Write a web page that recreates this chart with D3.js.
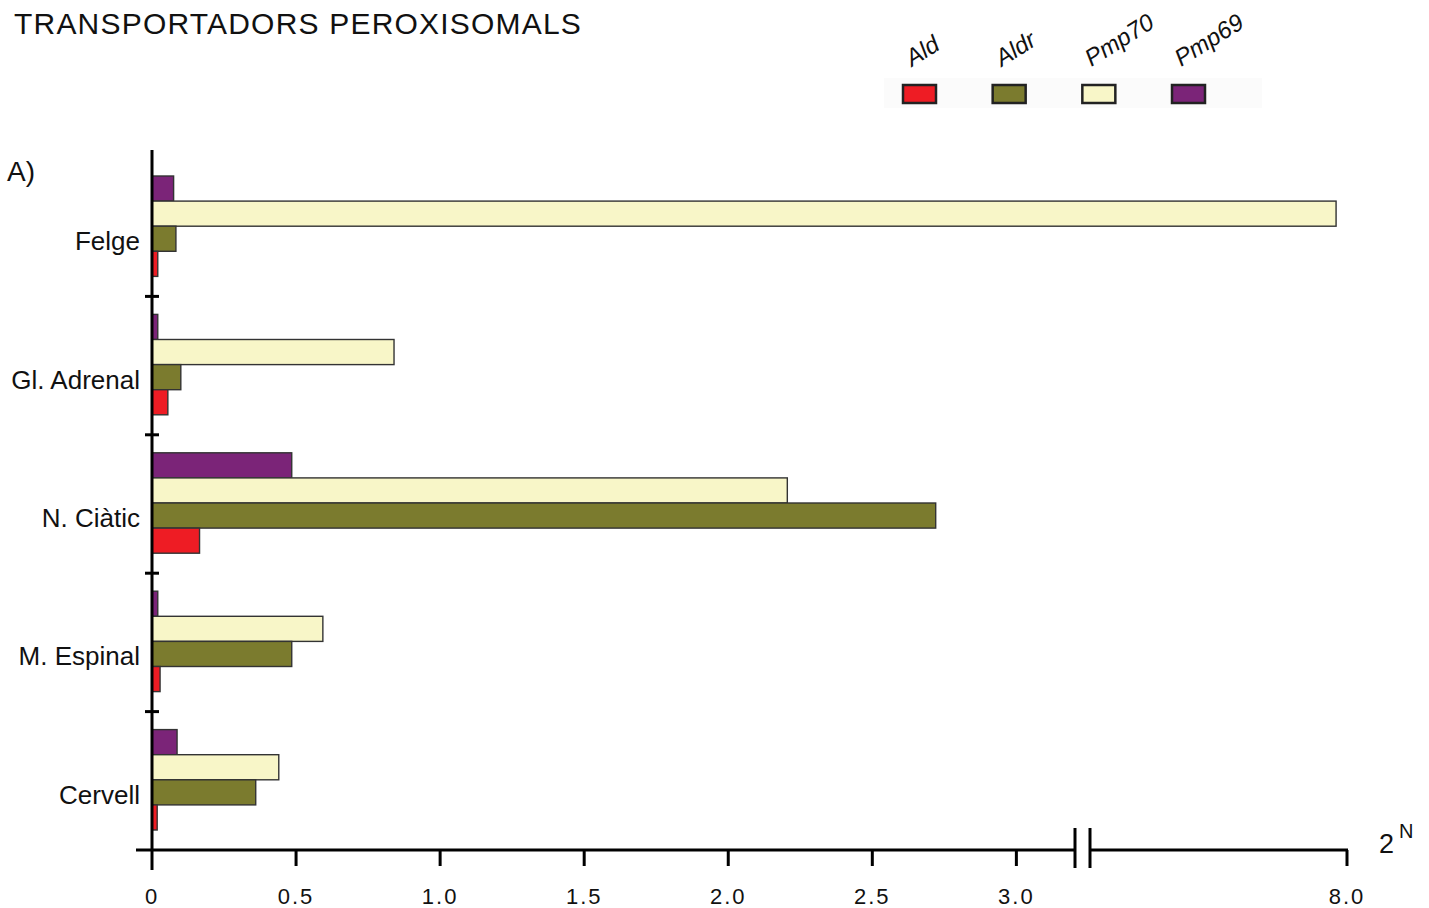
<!DOCTYPE html>
<html lang="ca">
<head>
    <meta charset="UTF-8">
    <title>Transportadors peroxisomals</title>
    <script src="https://d3js.org/d3.v7.min.js"></script>
    <style>
        body { margin: 0; background: #fff; }
        text { font-family: "Liberation Sans", Arial, sans-serif; fill: #111; }
    </style>
</head>
<body>
<script>
    const width = 1429;
    const height = 908;

    // data
    const tissues = ["Felge", "Gl. Adrenal", "N. Ciàtic", "M. Espinal", "Cervell"];
    const series  = ["Pmp69", "Pmp70", "Aldr", "Ald"];   // top to bottom within a group
    const legendOrder = ["Ald", "Aldr", "Pmp70", "Pmp69"];
    const colors = {Ald: "#ee1c24", Aldr: "#7b7b2e", Pmp70: "#f8f6c8", Pmp69: "#7b2478"};

    const ald   = [0.02, 0.055, 0.165, 0.028, 0.018];
    const aldr  = [0.083, 0.10, 2.72, 0.485, 0.36];
    const pmp70 = [7.83, 0.84, 2.205, 0.593, 0.44];
    const pmp69 = [0.075, 0.02, 0.485, 0.02, 0.087];
    const values = {Ald: ald, Aldr: aldr, Pmp70: pmp70, Pmp69: pmp69};

    const tickValues = [0, 0.5, 1.0, 1.5, 2.0, 2.5, 3.0, 8.0];
    const tickLabels = ["0", "0.5", "1.0", "1.5", "2.0", "2.5", "3.0", "8.0"];

    const svg = d3.select("body").append("svg")
            .attr("width", width).attr("height", height);

    // broken x scale: 0..3.2 linear, jump, then up to 8
    const x = d3.scaleLinear()
            .domain([0, 3.2, 4, 8])
            .range([152, 1074, 1090, 1347]);

    const y0 = d3.scaleBand()
            .domain(tissues)
            .range([158, 850])
            .paddingInner(0)
            .paddingOuter(0);

    const y1 = d3.scaleBand()
            .domain(series)
            .range([18, y0.bandwidth() - 20]);

    // title
    svg.append("text")
            .attr("x", 14).attr("y", 34)
            .style("font-size", "30px")
            .style("letter-spacing", "1.2px")
            .text("TRANSPORTADORS PEROXISOMALS");

    svg.append("text")
            .attr("x", 7).attr("y", 181)
            .style("font-size", "28px")
            .text("A)");

    // bars
    const groups = svg.selectAll("g.tissue")
            .data(tissues)
            .enter().append("g")
            .attr("class", "tissue")
            .attr("transform", d => `translate(0,${y0(d)})`);

    groups.selectAll("rect")
            .data((t, i) => series.map(s => ({s: s, v: values[s][i]})))
            .enter().append("rect")
            .attr("x", x(0))
            .attr("y", d => y1(d.s))
            .attr("width", d => x(d.v) - x(0))
            .attr("height", y1.bandwidth())
            .style("fill", d => colors[d.s])
            .style("stroke", "#333")
            .style("stroke-width", 1.4);

    // category labels
    groups.append("text")
            .attr("x", 140)
            .attr("y", y0.bandwidth() / 2 + 23)
            .attr("text-anchor", "end")
            .style("font-size", "26px")
            .text(d => d);

    // y axis
    const axis = svg.append("g").style("stroke", "#000");
    axis.append("line")
            .attr("x1", 152).attr("x2", 152)
            .attr("y1", 150).attr("y2", 851)
            .style("stroke-width", 3);

    axis.selectAll("line.ytick")
            .data(tissues.slice(1))
            .enter().append("line")
            .attr("class", "ytick")
            .attr("x1", 145).attr("x2", 159)
            .attr("y1", d => y0(d)).attr("y2", d => y0(d))
            .style("stroke-width", 3);

    // x axis in two pieces with break
    const axisY = 850;
    axis.append("line")
            .attr("x1", 136).attr("x2", 1075)
            .attr("y1", axisY).attr("y2", axisY)
            .style("stroke-width", 3);
    axis.append("line")
            .attr("x1", 1090).attr("x2", x(8) + 1)
            .attr("y1", axisY).attr("y2", axisY)
            .style("stroke-width", 3);
    [1075, 1090].forEach(bx => {
        axis.append("line")
                .attr("x1", bx).attr("x2", bx)
                .attr("y1", 828).attr("y2", 868)
                .style("stroke-width", 3);
    });

    axis.selectAll("line.xtick")
            .data(tickValues)
            .enter().append("line")
            .attr("class", "xtick")
            .attr("x1", d => x(d)).attr("x2", d => x(d))
            .attr("y1", axisY).attr("y2", d => d === 0 ? 870 : 866)
            .style("stroke-width", 3);

    svg.selectAll("text.xlabel")
            .data(tickValues)
            .enter().append("text")
            .attr("class", "xlabel")
            .attr("x", d => x(d))
            .attr("y", 904)
            .attr("text-anchor", "middle")
            .style("font-size", "22px")
            .style("letter-spacing", "2px")
            .text((d, i) => tickLabels[i]);

    // 2^N
    const unit = svg.append("text")
            .attr("x", 1379).attr("y", 853)
            .style("font-size", "27px");
    unit.append("tspan").text("2");
    unit.append("tspan").attr("dx", 5).attr("dy", -15).style("font-size", "20px").text("N");

    // legend
    const legend = svg.append("g");
    legend.append("rect")
            .attr("x", 884).attr("y", 78)
            .attr("width", 378).attr("height", 30)
            .style("fill", "#fbfbfb");

    const lx = d3.scalePoint()
            .domain(legendOrder)
            .range([903, 1172]);

    legend.selectAll("rect.key")
            .data(legendOrder)
            .enter().append("rect")
            .attr("class", "key")
            .attr("x", d => lx(d)).attr("y", 85)
            .attr("width", 33).attr("height", 18)
            .style("fill", d => colors[d])
            .style("stroke", "#222")
            .style("stroke-width", 2.5);

    legend.selectAll("text.key")
            .data(legendOrder)
            .enter().append("text")
            .attr("class", "key")
            .attr("transform", d => `translate(${lx(d) + 9},${67}) rotate(-32)`)
            .style("font-size", "24px")
            .style("font-style", "italic")
            .text(d => d);
</script>
</body>
</html>
